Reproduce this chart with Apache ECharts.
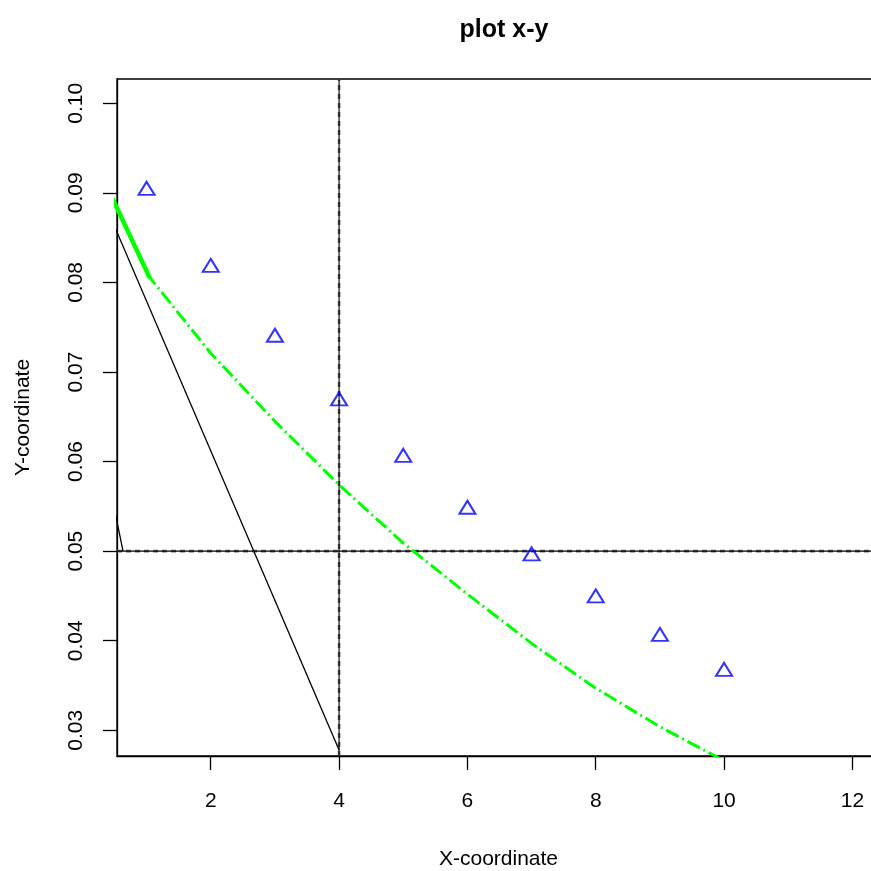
<!DOCTYPE html>
<html>
<head>
<meta charset="utf-8">
<script src="https://cdn.jsdelivr.net/npm/echarts@6/dist/echarts.min.js"></script>
<style>
html,body{margin:0;padding:0;background:#fff;}
#chart{width:871px;height:871px;}
</style>
</head>
<body>
<div id="chart"></div>
<script>
// ---- data ----
var pointX = [1, 2, 3, 4, 5, 6, 7, 8, 9, 10];
var pointY = [0.0905, 0.0819, 0.0741, 0.0670, 0.0607, 0.0549, 0.0497, 0.0450, 0.0407, 0.0368];

var greenHeadX = [0, 1.05];
var greenHeadY = [0.0965, 0.0805];
var greenX = [1, 2, 3, 4, 5, 6, 7, 8, 9, 10];
var greenY = [0.0810, 0.0721, 0.0645, 0.0574, 0.0509, 0.0452, 0.0397, 0.0347, 0.0304, 0.0266];

var blackLineX = [0, 4];
var blackLineY = [0.0946, 0.0278];
var shortLineX = [0, 0.633];
var shortLineY = [0.0722, 0.0500];

var vLineX = 4;
var hLineY = 0.05;

var xTicks = [2, 4, 6, 8, 10, 12];
var yTicks = [0.03, 0.04, 0.05, 0.06, 0.07, 0.08, 0.09, 0.10];

var xMin = 0.539, xMax = 12.43;
var yMin = 0.02713, yMax = 0.10271;

function zip(xs, ys) { return xs.map(function (x, i) { return [x, ys[i]]; }); }

var FONT = 'Liberation Sans, Arial, sans-serif';
var chart = echarts.init(document.getElementById('chart'), null, {renderer: 'canvas'});

var option = {
  backgroundColor: '#ffffff',
  animation: false,
  title: {
    text: 'plot x-y',
    left: 499, top: 13, textAlign: 'center',
    textStyle: {fontFamily: FONT, fontWeight: 'bold', fontSize: 25, color: '#000'}
  },
  grid: {
    left: 117, top: 79, width: 763, height: 677,
    containLabel: false, outerBoundsMode: 'none',
    show: true, borderColor: '#000', borderWidth: 1.3, backgroundColor: 'transparent'
  },
  xAxis: {
    type: 'value', min: xMin, max: xMax,
    name: 'X-coordinate', nameLocation: 'middle', nameGap: 93,
    nameTextStyle: {fontFamily: FONT, fontSize: 21, color: '#000'},
    axisLine: {show: true, onZero: false, lineStyle: {color: '#000', width: 1.3}},
    axisTick: {show: true, inside: false, length: 14, customValues: xTicks, lineStyle: {color: '#000', width: 1.3}},
    axisLabel: {show: true, customValues: xTicks, margin: 35, fontFamily: FONT, fontSize: 21, color: '#000',
      formatter: function (v) { return String(v); }},
    splitLine: {show: false}
  },
  yAxis: {
    type: 'value', min: yMin, max: yMax,
    name: 'Y-coordinate', nameLocation: 'middle', nameGap: 83, nameRotate: 90,
    nameTextStyle: {fontFamily: FONT, fontSize: 21, color: '#000'},
    axisLine: {show: true, onZero: false, lineStyle: {color: '#000', width: 1.3}},
    axisTick: {show: true, inside: false, length: 14, customValues: yTicks, lineStyle: {color: '#000', width: 1.3}},
    axisLabel: {show: true, customValues: yTicks, rotate: 90, margin: 30, fontFamily: FONT, fontSize: 21, color: '#000',
      formatter: function (v) { return v.toFixed(2); }},
    splitLine: {show: false}
  },
  series: [
    {
      type: 'line', data: [[vLineX, yMin], [vLineX, yMax]], symbol: 'none', z: 2,
      lineStyle: {color: '#666', width: 2.6, type: [5, 4]}
    },
    {
      type: 'line', data: [[vLineX, yMin], [vLineX, yMax]], symbol: 'none', z: 3,
      lineStyle: {color: '#000', width: 1.1}
    },
    {
      type: 'line', data: [[xMin, hLineY], [xMax, hLineY]], symbol: 'none', z: 2,
      lineStyle: {color: '#666', width: 2.6, type: [5, 4]}
    },
    {
      type: 'line', data: [[xMin, hLineY], [xMax, hLineY]], symbol: 'none', z: 3,
      lineStyle: {color: '#000', width: 1.1}
    },
    {
      type: 'line', data: zip(blackLineX, blackLineY), symbol: 'none', z: 4,
      lineStyle: {color: '#000', width: 1.3}
    },
    {
      type: 'line', data: zip(shortLineX, shortLineY), symbol: 'none', z: 4,
      lineStyle: {color: '#000', width: 1.3}
    },
    {
      type: 'line', data: zip(greenHeadX, greenHeadY), symbol: 'none', z: 5,
      lineStyle: {color: '#00ff00', width: 4.5, cap: 'butt'}
    },
    {
      type: 'line', data: zip(greenX, greenY), symbol: 'none', z: 5,
      lineStyle: {color: '#00ff00', width: 3, type: [14, 4, 2, 4], cap: 'butt'}
    },
    {
      type: 'scatter', data: zip(pointX, pointY), symbol: 'triangle', symbolSize: [16, 13], z: 6,
      itemStyle: {color: 'rgba(0,0,0,0)', borderColor: '#0000ff', borderWidth: 2}
    }
  ]
};
chart.setOption(option);
</script>
</body>
</html>
